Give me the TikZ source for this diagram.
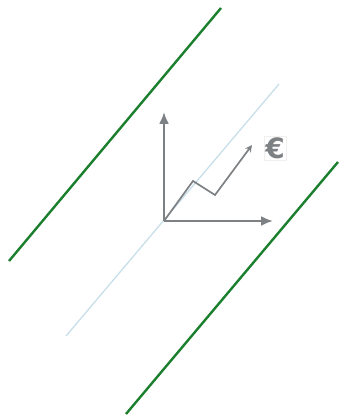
\documentclass[tikz,border=0pt]{standalone}
\usepackage{fontspec}
\newfontfamily\eurofont{DejaVu Sans}
\usetikzlibrary{arrows.meta}
\definecolor{railgreen}{HTML}{1B7F2E}
\definecolor{midblue}{HTML}{C8DFEA}
\definecolor{axisgray}{HTML}{7E8184}

\begin{document}
\begin{tikzpicture}[x=1pt,y=-1pt,>=Latex,
rail/.style={draw=railgreen,line width=2.4pt},
mid/.style={draw=midblue,line width=1.3pt},
axis/.style={draw=axisgray,line width=2.2pt,-{Latex[length=12pt,width=10pt]}},
path/.style={draw=axisgray,line width=1.7pt,-{Stealth[length=7pt,width=7pt]}},
money/.style={text=axisgray,font=\eurofont\bfseries\fontsize{28}{28}\selectfont,draw=axisgray!12,inner sep=1.5pt}]
\useasboundingbox (0,0) rectangle (338,419);
\coordinate (a1) at (9,261);\coordinate (a2) at (221,8);
\coordinate (b1) at (126,414);\coordinate (b2) at (338,162);
\coordinate (m1) at (66,336);\coordinate (m2) at (279,84);
\coordinate (o) at (164,221);
\coordinate (ytop) at (164,112);\coordinate (xend) at (273,221);
\coordinate (z1) at (193,181);\coordinate (z2) at (215,195);\coordinate (z3) at (252,145);
\draw[rail] (a1)--(a2);
\draw[rail] (b1)--(b2);
\draw[mid] (m1)--(m2);
\draw[axis] (o)--(ytop);
\draw[axis] (o)--(xend);
\draw[path] (o)--(z1)--(z2)--(z3);
\node[money] (eur) at (275,148) {€};
\end{tikzpicture}
\end{document}
